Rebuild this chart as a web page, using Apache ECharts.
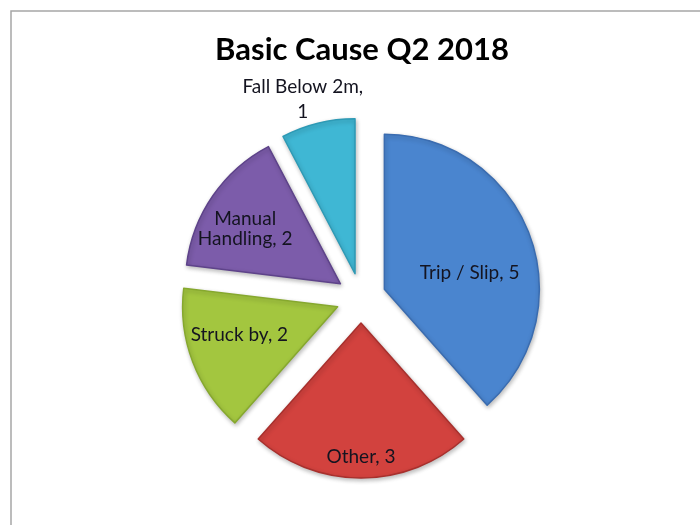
<!DOCTYPE html>
<html>
<head>
<meta charset="utf-8">
<script src="https://cdn.jsdelivr.net/npm/echarts@6/dist/echarts.min.js"></script>
<style>
html,body{margin:0;padding:0;background:#fff;}
#c{width:700px;height:525px;}
</style>
</head>
<body>
<div id="c"></div>
<script>
const titleText = 'Basic Cause Q2 2018';
const categories = ['Trip / Slip', 'Other', 'Struck by', 'Manual Handling', 'Fall Below 2m'];
const values = [5, 3, 2, 2, 1];

const baseColors = ['#4A85CF', '#D2423E', '#A3C63F', '#7C5CAA', '#3FB7D4'];
const darkColors = ['#3A6CB0', '#A8302D', '#86A82E', '#5E438A', '#2E9AB5'];

const labelShift = [[10, 12], [0, 53], [-23, -1], [-29, -9], [-33, -96]];
const labelFormats = ['{b}, {c}', '{b}, {c}', '{b}, {c}', 'Manual\nHandling, {c}', '{b},\n{c}'];
const labelLineHeights = [20, 20, 20, 20, 25];

const chart = echarts.init(document.getElementById('c'), null, {renderer: 'canvas'});

const data = categories.map((name, i) => ({
  name: name,
  value: values[i],
  selected: true,
  itemStyle: {
    color: baseColors[i],
    borderColor: darkColors[i],
    borderWidth: 1.5,
    shadowColor: 'rgba(0,0,0,0.25)',
    shadowBlur: 4,
    shadowOffsetX: 1,
    shadowOffsetY: 2
  },
  label: {
    show: true,
    position: 'inside',
    lineHeight: labelLineHeights[i],
    formatter: labelFormats[i]
  }
}));

chart.setOption({
  animation: false,
  backgroundColor: '#ffffff',
  title: {
    text: titleText,
    left: 357,
    textAlign: 'center',
    top: 29,
    textStyle: {fontFamily: 'Lato', fontWeight: 'bold', fontSize: 31, color: '#000'}
  },
  graphic: [{
    type: 'rect',
    shape: {x: 11, y: 11, width: 720, height: 540},
    style: {fill: null, stroke: '#a6a6a6', lineWidth: 1.5},
    silent: true,
    z: -10
  }],
  series: [{
    type: 'pie',
    center: [361, 298],
    radius: [0, 155],
    startAngle: 90,
    clockwise: true,
    selectedMode: 'multiple',
    selectedOffset: 25,
    avoidLabelOverlap: false,
    emphasis: {disabled: true},
    label: {
      show: true,
      color: '#141420',
      fontFamily: 'Lato',
      fontSize: 19,
      lineHeight: 20,
      align: 'center'
    },
    labelLine: {show: false},
    labelLayout: function (params) {
      const s = labelShift[params.dataIndex];
      return {dx: s[0], dy: s[1]};
    },
    data: data
  }]
});
</script>
</body>
</html>
